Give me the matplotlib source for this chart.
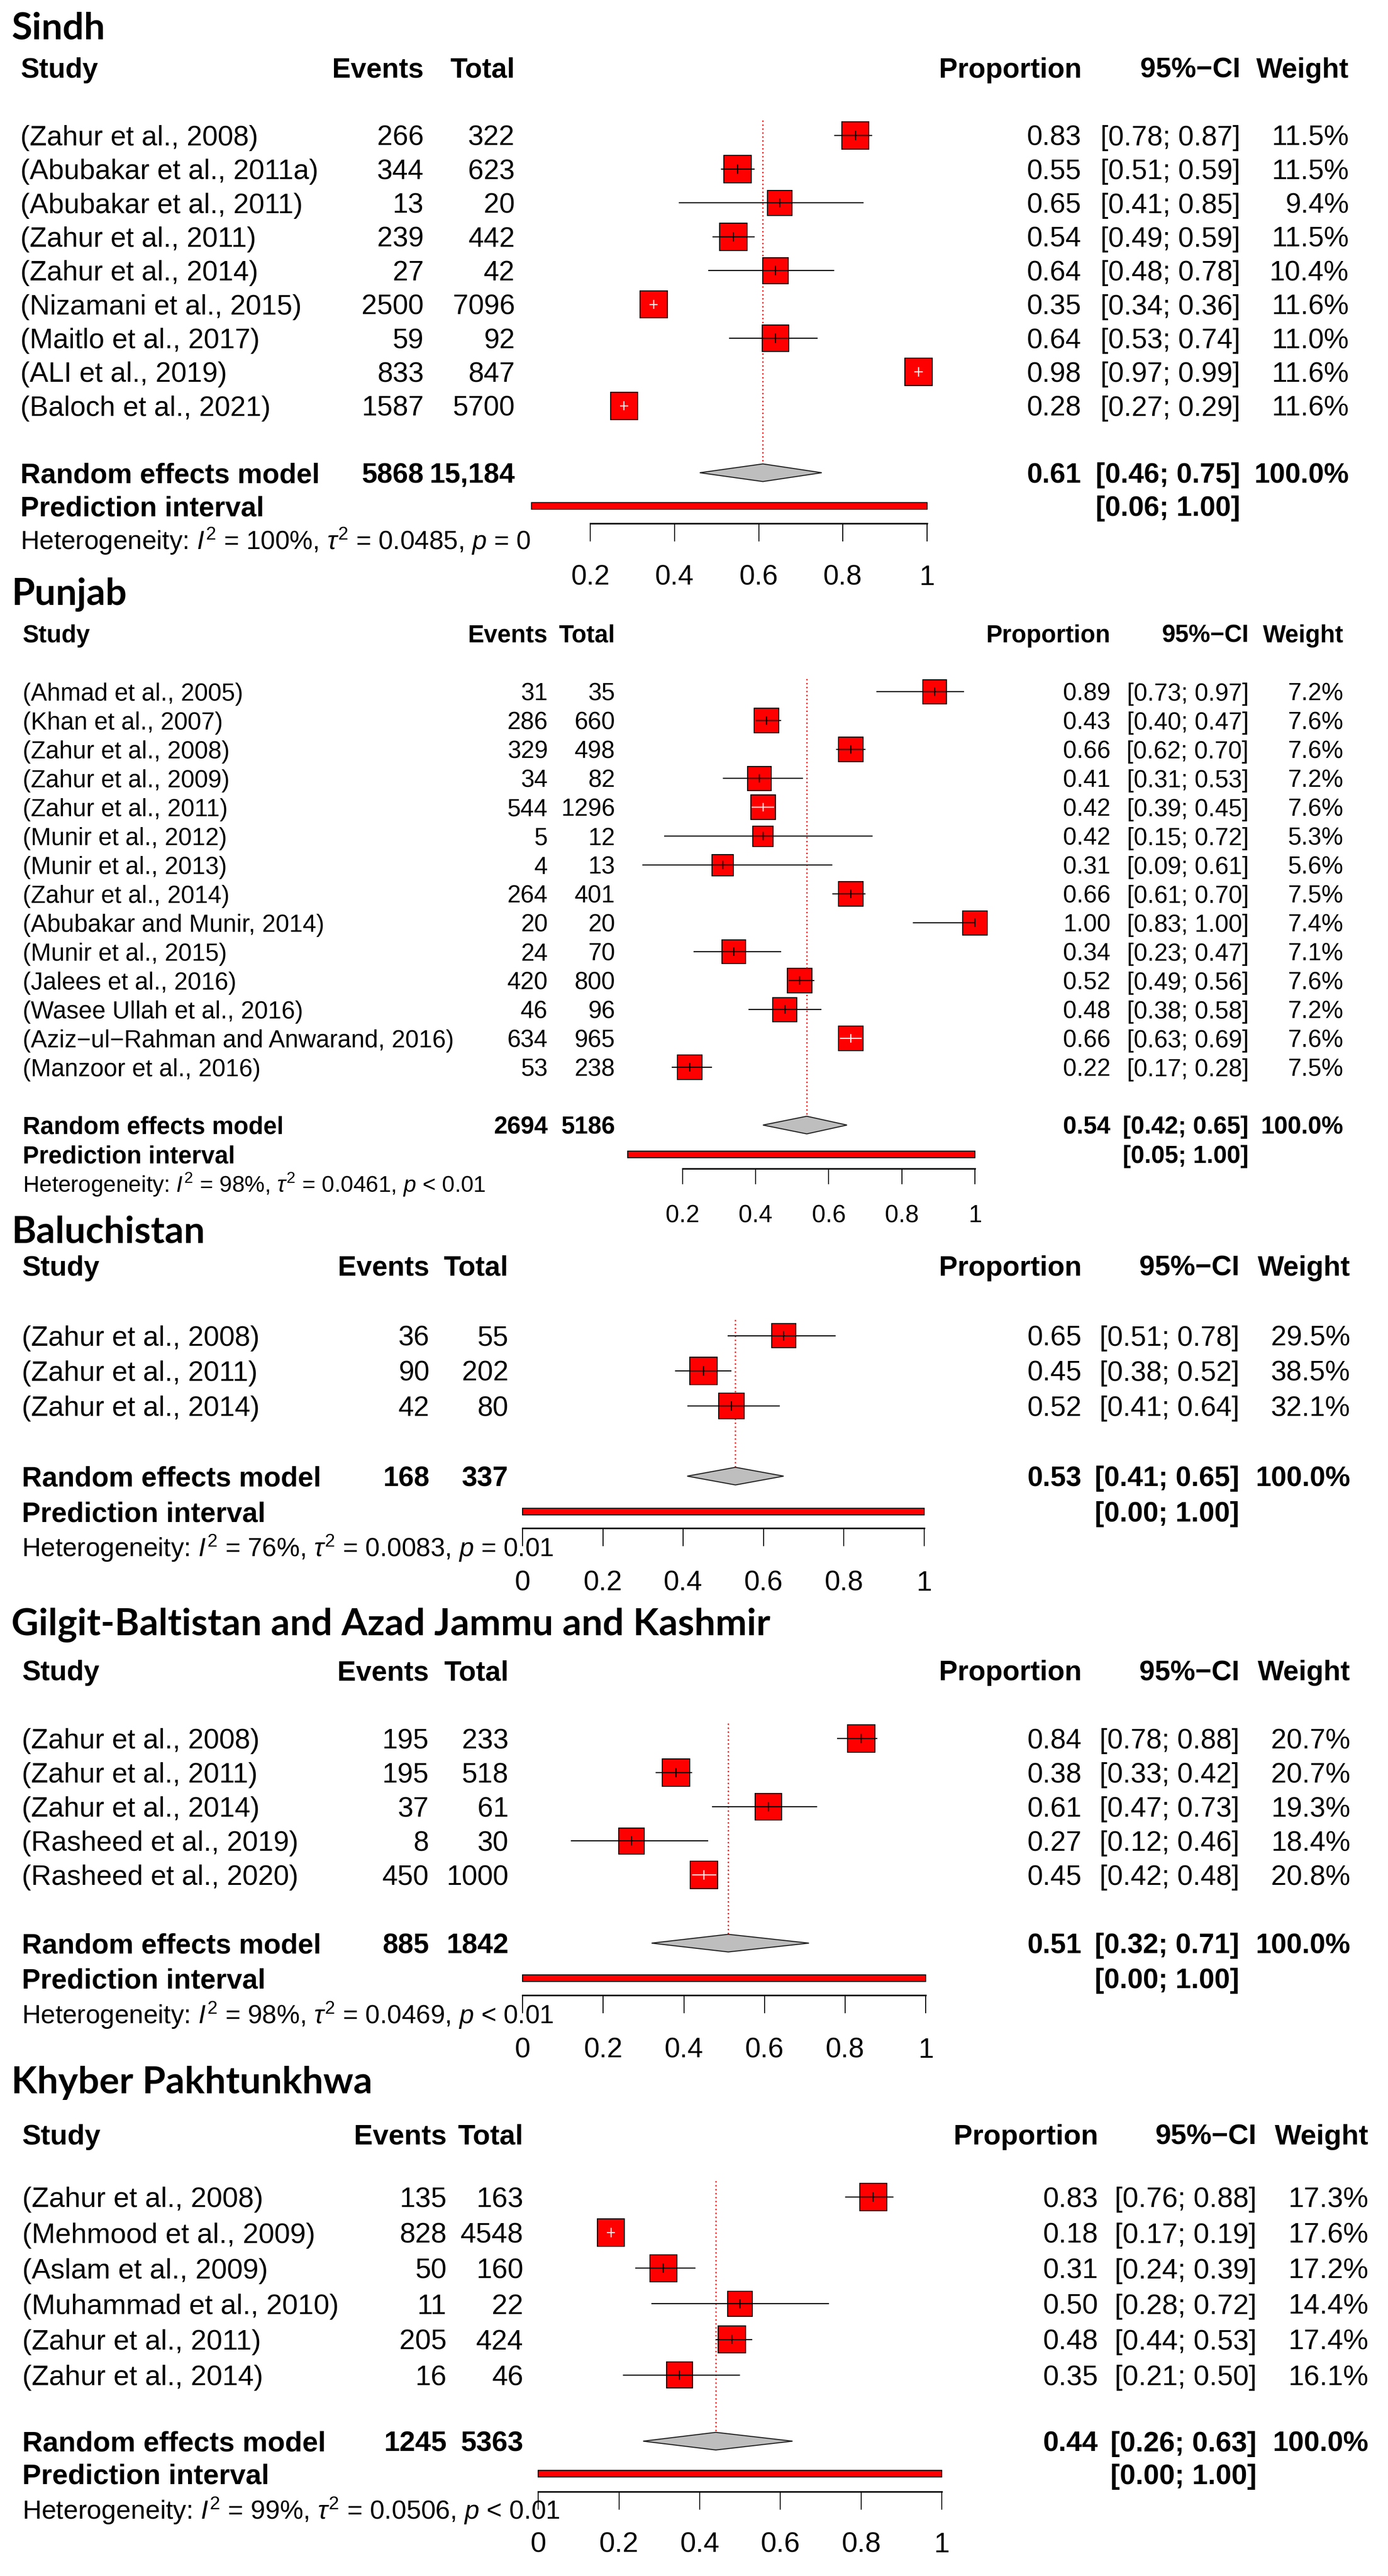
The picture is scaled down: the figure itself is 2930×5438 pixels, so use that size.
import numpy as np
import matplotlib
matplotlib.use("Agg")
import matplotlib.pyplot as plt
from matplotlib.patches import Rectangle, Polygon
from matplotlib.ticker import FuncFormatter
from matplotlib.transforms import blended_transform_factory

plt.rcParams["font.family"] = "Liberation Sans"
plt.rcParams["mathtext.fontset"] = "custom"
plt.rcParams["mathtext.rm"] = "Liberation Sans"
plt.rcParams["mathtext.it"] = "Liberation Sans:italic"
plt.rcParams["mathtext.bf"] = "Liberation Sans:bold"

# ========= 1. DATA =========

# --- Sindh ---
sindh_study = ["(Zahur et al., 2008)", "(Abubakar et al., 2011a)", "(Abubakar et al., 2011)",
               "(Zahur et al., 2011)", "(Zahur et al., 2014)", "(Nizamani et al., 2015)",
               "(Maitlo et al., 2017)", "(ALI et al., 2019)", "(Baloch et al., 2021)"]
sindh_events = [266, 344, 13, 239, 27, 2500, 59, 833, 1587]
sindh_total = [322, 623, 20, 442, 42, 7096, 92, 847, 5700]
sindh_prop = [0.83, 0.55, 0.65, 0.54, 0.64, 0.35, 0.64, 0.98, 0.28]
sindh_lo = [0.78, 0.51, 0.41, 0.49, 0.48, 0.34, 0.53, 0.97, 0.27]
sindh_hi = [0.87, 0.59, 0.85, 0.59, 0.78, 0.36, 0.74, 0.99, 0.29]
sindh_weight = [11.5, 11.5, 9.4, 11.5, 10.4, 11.6, 11.0, 11.6, 11.6]
sindh_sum = [5868, 15184]
sindh_pooled = [0.61, 0.46, 0.75]
sindh_pred = [0.06, 1.00]
sindh_het = ["100%", "0.0485", "= 0"]

# --- Punjab ---
punjab_study = ["(Ahmad et al., 2005)", "(Khan et al., 2007)", "(Zahur et al., 2008)",
                "(Zahur et al., 2009)", "(Zahur et al., 2011)", "(Munir et al., 2012)",
                "(Munir et al., 2013)", "(Zahur et al., 2014)", "(Abubakar and Munir, 2014)",
                "(Munir et al., 2015)", "(Jalees et al., 2016)", "(Wasee Ullah et al., 2016)",
                "(Aziz\u2212ul\u2212Rahman and Anwarand, 2016)", "(Manzoor et al., 2016)"]
punjab_events = [31, 286, 329, 34, 544, 5, 4, 264, 20, 24, 420, 46, 634, 53]
punjab_total = [35, 660, 498, 82, 1296, 12, 13, 401, 20, 70, 800, 96, 965, 238]
punjab_prop = [0.89, 0.43, 0.66, 0.41, 0.42, 0.42, 0.31, 0.66, 1.00, 0.34, 0.52, 0.48, 0.66, 0.22]
punjab_lo = [0.73, 0.40, 0.62, 0.31, 0.39, 0.15, 0.09, 0.61, 0.83, 0.23, 0.49, 0.38, 0.63, 0.17]
punjab_hi = [0.97, 0.47, 0.70, 0.53, 0.45, 0.72, 0.61, 0.70, 1.00, 0.47, 0.56, 0.58, 0.69, 0.28]
punjab_weight = [7.2, 7.6, 7.6, 7.2, 7.6, 5.3, 5.6, 7.5, 7.4, 7.1, 7.6, 7.2, 7.6, 7.5]
punjab_sum = [2694, 5186]
punjab_pooled = [0.54, 0.42, 0.65]
punjab_pred = [0.05, 1.00]
punjab_het = ["98%", "0.0461", "< 0.01"]

# --- Baluchistan ---
baluch_study = ["(Zahur et al., 2008)", "(Zahur et al., 2011)", "(Zahur et al., 2014)"]
baluch_events = [36, 90, 42]
baluch_total = [55, 202, 80]
baluch_prop = [0.65, 0.45, 0.52]
baluch_lo = [0.51, 0.38, 0.41]
baluch_hi = [0.78, 0.52, 0.64]
baluch_weight = [29.5, 38.5, 32.1]
baluch_sum = [168, 337]
baluch_pooled = [0.53, 0.41, 0.65]
baluch_pred = [0.00, 1.00]
baluch_het = ["76%", "0.0083", "= 0.01"]

# --- Gilgit-Baltistan and AJK ---
gb_study = ["(Zahur et al., 2008)", "(Zahur et al., 2011)", "(Zahur et al., 2014)",
            "(Rasheed et al., 2019)", "(Rasheed et al., 2020)"]
gb_events = [195, 195, 37, 8, 450]
gb_total = [233, 518, 61, 30, 1000]
gb_prop = [0.84, 0.38, 0.61, 0.27, 0.45]
gb_lo = [0.78, 0.33, 0.47, 0.12, 0.42]
gb_hi = [0.88, 0.42, 0.73, 0.46, 0.48]
gb_weight = [20.7, 20.7, 19.3, 18.4, 20.8]
gb_sum = [885, 1842]
gb_pooled = [0.51, 0.32, 0.71]
gb_pred = [0.00, 1.00]
gb_het = ["98%", "0.0469", "< 0.01"]

# --- Khyber Pakhtunkhwa ---
kp_study = ["(Zahur et al., 2008)", "(Mehmood et al., 2009)", "(Aslam et al., 2009)",
            "(Muhammad et al., 2010)", "(Zahur et al., 2011)", "(Zahur et al., 2014)"]
kp_events = [135, 828, 50, 11, 205, 16]
kp_total = [163, 4548, 160, 22, 424, 46]
kp_prop = [0.83, 0.18, 0.31, 0.50, 0.48, 0.35]
kp_lo = [0.76, 0.17, 0.24, 0.28, 0.44, 0.21]
kp_hi = [0.88, 0.19, 0.39, 0.72, 0.53, 0.50]
kp_weight = [17.3, 17.6, 17.2, 14.4, 17.4, 16.1]
kp_sum = [1245, 5363]
kp_pooled = [0.44, 0.26, 0.63]
kp_pred = [0.00, 1.00]
kp_het = ["99%", "0.0506", "< 0.01"]

ticks_from_02 = [0.2, 0.4, 0.6, 0.8, 1.0]
ticks_from_0 = [0.0, 0.2, 0.4, 0.6, 0.8, 1.0]

# ========= 2. LAYOUT (units of an 850-wide page) =========

W = 850.0
H = W * 5438 / 2930
PT = 2930 / W * 0.72          # points per layout unit at dpi 100

fig = plt.figure(figsize=(29.30, 54.38), dpi=100)
fig.patch.set_facecolor("white")


def fmt_n(n):
    return f"{n:,}" if n >= 10000 else str(n)


def forest(title, study, events, total, prop, lo, hi, weight,
           sums, pooled, pred, het, ticks, L):
    ax = fig.add_axes([0, 0, 1, 1])
    ax.patch.set_visible(False)
    x0, s = L["x0"], L["s"]
    ax.set_xlim(-x0 / s, (W - x0) / s)
    ax.set_ylim(H, 0)
    tr = blended_transform_factory(ax.transAxes, ax.transData)
    fs = L["fs"]
    c = L["cols"]

    def put(x, y, t, ha="right", bold=False, size=fs, **kw):
        ax.text(x / W, y + 0.358 * size / PT, t, transform=tr, ha=ha, va="baseline",
                fontsize=size, fontweight="bold" if bold else "normal", **kw)

    # title + header
    put(7, L["title"], title, ha="left", bold=True, size=L["tfs"], family="Lato")
    hy = L["header"]
    put(c[0], hy, "Study", ha="left", bold=True)
    put(c[1], hy, "Events", bold=True)
    put(c[2], hy, "Total", bold=True)
    put(c[3], hy, "Proportion", bold=True)
    put(c[4], hy, "95%\u2212CI", bold=True)
    put(c[5], hy, "Weight", bold=True)

    # studies
    wmax = max(weight)
    tk = 0.17 * L["sq"]
    for i in range(len(study)):
        y = L["row0"] + i * L["step"]
        put(c[0], y, study[i], ha="left")
        put(c[1], y, str(events[i]))
        put(c[2], y, str(total[i]))
        put(c[3], y, f"{prop[i]:.2f}")
        put(c[4], y, f"[{lo[i]:.2f}; {hi[i]:.2f}]")
        put(c[5], y, f"{weight[i]:.1f}%")

        side = L["sq"] * np.sqrt(weight[i] / wmax)
        hw = side / 2 / s
        ax.add_patch(Rectangle((prop[i] - hw, y - side / 2), 2 * hw, side,
                               facecolor="red", edgecolor="black", lw=1.4,
                               zorder=3, clip_on=False))
        inside = lo[i] > prop[i] - hw and hi[i] < prop[i] + hw
        col = "white" if inside else "black"
        ax.hlines(y, lo[i], hi[i], color=col, lw=1.7, zorder=4, clip_on=False)
        ax.vlines(prop[i], y - tk, y + tk, color=col, lw=1.7, zorder=4, clip_on=False)

    # pooled estimate
    ry = L["rem"]
    dh = 5.4
    put(c[0], ry, "Random effects model", ha="left", bold=True)
    put(c[1], ry, fmt_n(sums[0]), bold=True)
    put(c[2], ry, fmt_n(sums[1]), bold=True)
    put(c[3], ry, f"{pooled[0]:.2f}", bold=True)
    put(c[4], ry, f"[{pooled[1]:.2f}; {pooled[2]:.2f}]", bold=True)
    put(c[5], ry, "100.0%", bold=True)
    ax.add_patch(Polygon([(pooled[1], ry), (pooled[0], ry - dh),
                          (pooled[2], ry), (pooled[0], ry + dh)],
                         closed=True, facecolor="#BEBEBE", edgecolor="#222222",
                         lw=1.6, zorder=3, clip_on=False))
    ax.vlines(pooled[0], L["row0"] - 0.45 * L["step"], ry - dh, color="red",
              lw=2.0, linestyles=[(0, (1, 2))], zorder=2)

    # prediction interval
    py = L["pi"]
    ph = 4.0
    put(c[0], py, "Prediction interval", ha="left", bold=True)
    put(c[4], py, f"[{pred[0]:.2f}; {pred[1]:.2f}]", bold=True)
    ax.add_patch(Rectangle((pred[0], py - ph / 2), pred[1] - pred[0], ph,
                           facecolor="red", edgecolor="black", lw=1.4,
                           zorder=3, clip_on=False))

    # heterogeneity
    put(c[0], L["het"],
        rf"Heterogeneity: $I^2$ = {het[0]}, $\tau^2$ = {het[1]}, $p$ {het[2]}",
        ha="left", size=fs * 0.93)

    # x axis
    for side_ in ["left", "right", "top"]:
        ax.spines[side_].set_visible(False)
    ax.spines["bottom"].set_position(("data", L["axis"]))
    ax.spines["bottom"].set_bounds(ticks[0], ticks[-1])
    ax.spines["bottom"].set_linewidth(2.4)
    ax.set_yticks([])
    ax.set_xticks(ticks)
    ax.xaxis.set_major_formatter(FuncFormatter(lambda v, _: f"{v:g}"))
    pad = (L["ticklab"] - L["axis"] - L["tl"]) * PT - 0.37 * fs
    ax.tick_params(axis="x", direction="out", length=L["tl"] * PT, width=1.5,
                   pad=pad, labelsize=fs)


sindh_layout = dict(x0=310.1, s=257.5, title=15.8, header=41.4, row0=82.9, step=20.7,
                    rem=289.5, pi=309.8, axis=320.6, tl=11, het=330.7, ticklab=352,
                    fs=42.5, tfs=57, sq=16.8,
                    cols=[12.5, 259.5, 315.3, 662.3, 759.5, 826])
punjab_layout = dict(x0=373.25, s=223.75, title=362, header=388, row0=423.6, step=17.7,
                     rem=689, pi=707, axis=715.6, tl=9.6, het=725, ticklab=743,
                     fs=37, tfs=57, sq=15.1,
                     cols=[13.8, 335.5, 376.7, 680, 764.7, 822.7])
baluch_layout = dict(x0=320, s=246, title=753, header=775, row0=818, step=21.5,
                     rem=904, pi=925.7, axis=936, tl=11, het=947.5, ticklab=968,
                     fs=42.5, tfs=57, sq=16.9,
                     cols=[13.3, 263, 311.3, 662.4, 759, 827])
gb_layout = dict(x0=320, s=247, title=993, header=1023, row0=1064.7, step=20.9,
                 rem=1190, pi=1211.5, axis=1222, tl=11, het=1233.5, ticklab=1254,
                 fs=42.5, tfs=57, sq=16.9,
                 cols=[13.3, 262.6, 311.4, 662.4, 759, 827])
kp_layout = dict(x0=329.6, s=247.2, title=1273.6, header=1307, row0=1345.5, step=21.8,
                 rem=1495, pi=1515, axis=1526, tl=11, het=1537, ticklab=1557,
                 fs=43, tfs=57, sq=16.8,
                 cols=[13.5, 273.5, 320.5, 672.5, 769.5, 838])

# ========= 3. DRAW =========

forest("Sindh", sindh_study, sindh_events, sindh_total, sindh_prop, sindh_lo, sindh_hi,
       sindh_weight, sindh_sum, sindh_pooled, sindh_pred, sindh_het, ticks_from_02,
       sindh_layout)
forest("Punjab", punjab_study, punjab_events, punjab_total, punjab_prop, punjab_lo,
       punjab_hi, punjab_weight, punjab_sum, punjab_pooled, punjab_pred, punjab_het,
       ticks_from_02, punjab_layout)
forest("Baluchistan", baluch_study, baluch_events, baluch_total, baluch_prop, baluch_lo,
       baluch_hi, baluch_weight, baluch_sum, baluch_pooled, baluch_pred, baluch_het,
       ticks_from_0, baluch_layout)
forest("Gilgit-Baltistan and Azad Jammu and Kashmir", gb_study, gb_events, gb_total,
       gb_prop, gb_lo, gb_hi, gb_weight, gb_sum, gb_pooled, gb_pred, gb_het,
       ticks_from_0, gb_layout)
forest("Khyber Pakhtunkhwa", kp_study, kp_events, kp_total, kp_prop, kp_lo, kp_hi,
       kp_weight, kp_sum, kp_pooled, kp_pred, kp_het, ticks_from_0, kp_layout)

fig.savefig("out.png", dpi=100, facecolor="white")
